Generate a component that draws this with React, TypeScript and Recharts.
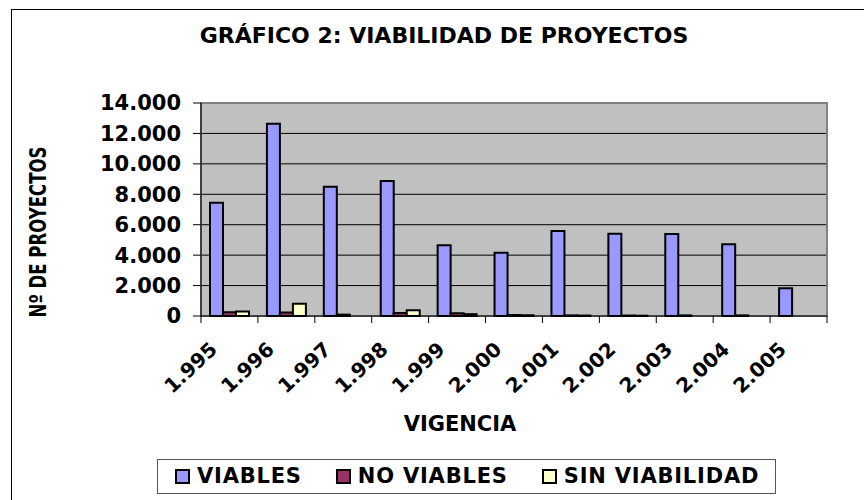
import { BarChart, Bar, XAxis, YAxis, CartesianGrid, ReferenceArea } from 'recharts'

const years = ['1.995', '1.996', '1.997', '1.998', '1.999', '2.000', '2.001', '2.002', '2.003', '2.004', '2.005']
const viables = [7450, 12640, 8500, 8870, 4650, 4150, 5590, 5410, 5390, 4710, 1820]
const noViables = [240, 230, 90, 190, 180, 60, 40, 30, 40, 40, 0]
const sinViabilidad = [300, 800, 0, 380, 120, 50, 30, 20, 0, 0, 0]
const yTicks = [0, 2000, 4000, 6000, 8000, 10000, 12000, 14000]

const series = [
  { key: 'viables', name: 'VIABLES', color: '#9999FF' },
  { key: 'noViables', name: 'NO VIABLES', color: '#993366' },
  { key: 'sinViabilidad', name: 'SIN VIABILIDAD', color: '#FFFFCC' },
]

const data = years.map((year, i) => ({
  year,
  viables: viables[i],
  noViables: noViables[i],
  sinViabilidad: sinViabilidad[i],
}))

if (typeof document !== 'undefined') {
  document.body.style.margin = '0'
  document.body.style.overflow = 'hidden'
}

const FONT = '"DejaVu Sans", Verdana, sans-serif'

function fmtMiles(v: number): string {
  return String(v).replace(/\B(?=(\d{3})+(?!\d))/g, '.')
}

function YearTick(props: any) {
  const { x, y, payload, index } = props
  const half = payload?.offset ?? 28.45
  const axisY = y - 7
  return (
    <g>
      <line x1={x - half} x2={x - half} y1={axisY} y2={axisY + 7} stroke="#000" />
      {index === years.length - 1 && (
        <line x1={x + half} x2={x + half} y1={axisY} y2={axisY + 7} stroke="#000" />
      )}
      <text
        transform={`translate(${x - 11},${y + 28}) rotate(-43)`}
        textAnchor="end"
        fontFamily={FONT}
        fontWeight="bold"
        fontSize={20}
        fill="#000"
      >
        {payload.value}
      </text>
    </g>
  )
}

function YTitle() {
  return (
    <text
      transform="translate(46,232) rotate(-90) scale(0.72,1)"
      textAnchor="middle"
      fontFamily={FONT}
      fontWeight="bold"
      fontSize={23}
      fill="#000"
    >
      Nº DE PROYECTOS
    </text>
  )
}

export default function App() {
  return (
    <div style={{ position: 'relative', width: 864, height: 500, overflow: 'hidden', background: '#fff', fontFamily: FONT }}>
      <div
        style={{
          position: 'absolute',
          left: 11,
          top: 9,
          width: 900,
          height: 520,
          borderLeft: '1px solid #000',
          borderTop: '1px solid #000',
        }}
      />
      <div
        style={{
          position: 'absolute',
          left: 444,
          top: 25,
          transform: 'translateX(-50%)',
          whiteSpace: 'nowrap',
          fontSize: 22,
          lineHeight: '22px',
          fontWeight: 'bold',
        }}
      >
        GRÁFICO 2: VIABILIDAD DE PROYECTOS
      </div>
      <div style={{ position: 'absolute', left: 0, top: 0 }}>
        <BarChart
          width={864}
          height={500}
          data={data}
          barGap={0}
          margin={{ top: 103, right: 37, left: 101, bottom: 104 }}
        >
          <CartesianGrid vertical={false} stroke="#000" fill="#C0C0C0" fillOpacity={1} />
          <ReferenceArea y1={0} y2={14000} fill="none" stroke="#808080" strokeWidth={2} />
          <XAxis
            dataKey="year"
            height={80}
            interval={0}
            tickLine={false}
            tickSize={7}
            tickMargin={0}
            stroke="#000"
            tick={<YearTick />}
          />
          <YAxis
            width={100}
            domain={[0, 14000]}
            ticks={yTicks}
            tickFormatter={fmtMiles}
            tickSize={8}
            tickMargin={12}
            stroke="#000"
            tickLine={{ stroke: '#000' }}
            tick={{ fill: '#000', fontSize: 21, fontWeight: 'bold', fontFamily: FONT }}
            label={<YTitle />}
          />
          {series.map((s) => (
            <Bar
              key={s.key}
              dataKey={s.key}
              name={s.name}
              fill={s.color}
              stroke="#000"
              strokeWidth={2}
              barSize={13}
              isAnimationActive={false}
            />
          ))}
        </BarChart>
      </div>
      <div
        style={{
          position: 'absolute',
          left: 460,
          top: 414,
          transform: 'translateX(-50%)',
          fontSize: 21,
          lineHeight: '21px',
          fontWeight: 'bold',
        }}
      >
        VIGENCIA
      </div>
      <div
        style={{
          position: 'absolute',
          left: 157,
          top: 459,
          width: 619,
          height: 35,
          border: '1px solid #555',
          display: 'flex',
          alignItems: 'center',
          paddingLeft: 17,
          boxSizing: 'border-box',
          whiteSpace: 'nowrap',
        }}
      >
        {series.map((s) => (
          <div key={s.key} style={{ display: 'flex', alignItems: 'center', marginRight: 34, flexShrink: 0 }}>
            <span
              style={{
                display: 'inline-block',
                width: 11,
                height: 11,
                background: s.color,
                border: '2px solid #000',
                marginRight: 7,
              }}
            />
            <span style={{ fontSize: 21, lineHeight: '21px', fontWeight: 'bold', letterSpacing: 0.8 }}>{s.name}</span>
          </div>
        ))}
      </div>
    </div>
  )
}
